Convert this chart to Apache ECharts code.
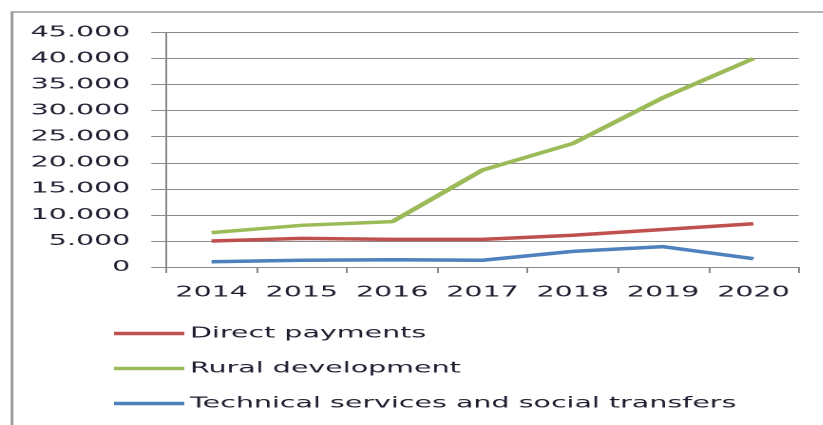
<!DOCTYPE html>
<html>
<head>
<meta charset="utf-8">
<script src="https://cdn.jsdelivr.net/npm/echarts@6/dist/echarts.min.js"></script>
<style>
html,body{margin:0;padding:0;background:#fff;}
#wrap{width:823px;height:425px;overflow:hidden;position:relative;}
#c{width:433px;height:425px;transform:scaleX(1.9);transform-origin:0 0;}
</style>
</head>
<body>
<div id="wrap"><div id="c"></div></div>
<script>
var years = ['2014','2015','2016','2017','2018','2019','2020'];
var directPayments = [5000, 5500, 5300, 5300, 6100, 7200, 8300];
var ruralDevelopment = [6600, 8000, 8700, 18600, 23700, 32500, 40000];
var technicalServices = [1000, 1300, 1400, 1300, 3000, 3900, 1600];
var seriesNames = ['Direct payments', 'Rural development', 'Technical services and social transfers'];

var textColor = '#1e1e30';
var fontFam = 'DejaVu Sans, Verdana, sans-serif';

function fmt(v){
  if (v === 0) return '0';
  var s = String(Math.round(v));
  return s.replace(/\B(?=(\d{3})+(?!\d))/g, '.');
}

var chart = echarts.init(document.getElementById('c'), null, {devicePixelRatio: 2});
chart.setOption({
  animation: false,
  backgroundColor: '#fff',
  graphic: [{
    type: 'rect', silent: true,
    shape: {x: 6.3, y: 12, width: 600, height: 600},
    style: {fill: 'none', stroke: '#9a9a9a', lineWidth: 1.5}
  }],
  grid: {left: 87.6, right: 12.7, top: 32.5, bottom: 158},
  legend: {
    orient: 'vertical',
    left: 60, top: 326, padding: 0,
    icon: 'rect',
    itemWidth: 37, itemHeight: 3.5, itemGap: 20,
    textStyle: {color: textColor, fontSize: 15, fontFamily: fontFam, lineHeight: 14, padding: [0, 0, 0, -2]},
    data: seriesNames
  },
  xAxis: {
    type: 'category',
    data: years,
    boundaryGap: true,
    axisLine: {lineStyle: {color: '#8a8a8a', width: 1}},
    axisTick: {show: true, length: 6, interval: 0, lineStyle: {color: '#8a8a8a'}},
    axisLabel: {color: textColor, fontSize: 15, fontFamily: fontFam, margin: 18, interval: 0}
  },
  yAxis: {
    type: 'value',
    min: 0, max: 45000, interval: 5000,
    axisLine: {show: true, lineStyle: {color: '#8a8a8a', width: 1}},
    axisTick: {show: true, length: 8, lineStyle: {color: '#8a8a8a'}},
    splitLine: {lineStyle: {color: '#8a8a8a', width: 1}},
    axisLabel: {color: textColor, fontSize: 15, fontFamily: fontFam, margin: 19, formatter: fmt}
  },
  series: [
    {name: seriesNames[0], type: 'line', data: directPayments, symbol: 'none',
     lineStyle: {color: '#C0504D', width: 3.5}, itemStyle: {color: '#C0504D'}},
    {name: seriesNames[1], type: 'line', data: ruralDevelopment, symbol: 'none',
     lineStyle: {color: '#9BBB59', width: 3.5}, itemStyle: {color: '#9BBB59'}},
    {name: seriesNames[2], type: 'line', data: technicalServices, symbol: 'none',
     lineStyle: {color: '#4F81BD', width: 3.5}, itemStyle: {color: '#4F81BD'}}
  ]
});
</script>
</body>
</html>
